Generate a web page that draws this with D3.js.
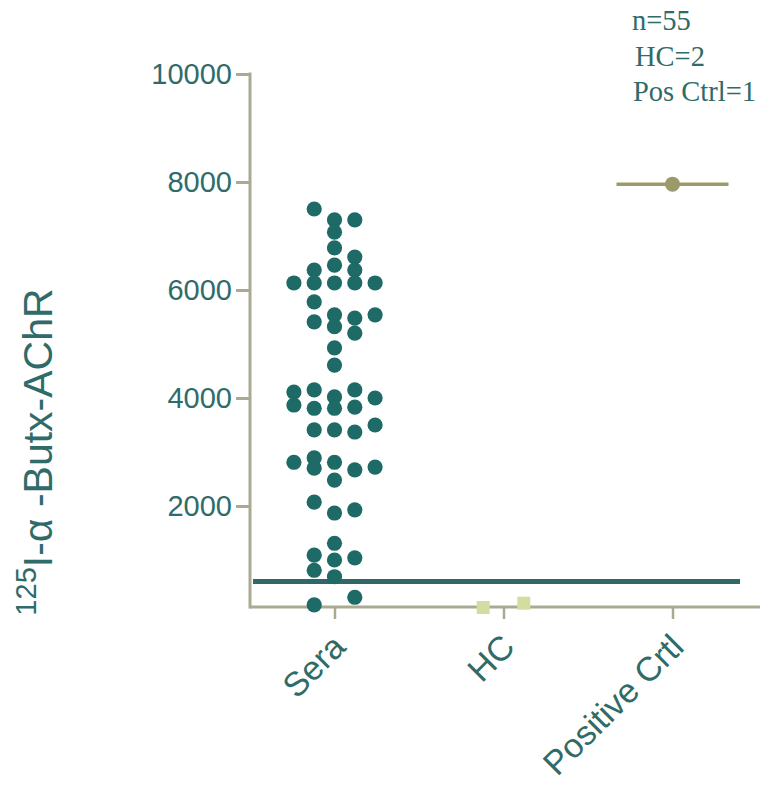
<!DOCTYPE html>
<html>
<head>
<meta charset="utf-8">
<script src="https://cdn.jsdelivr.net/npm/d3@7"></script>
<style>
  html, body { margin: 0; padding: 0; background: #ffffff; }
  svg { display: block; }
</style>
</head>
<body>
<div id="chart"></div>
<script>
// Groups on the x axis
const categories = ["Sera", "HC", "Positive Crtl"];

// 125I-α-Butx-AChR binding for each patient serum, with the lane it is stacked in
const seraValues = [
  7500, 7300, 7300, 7070, 6780, 6460, 6610, 6370, 6370,
  6130, 6130, 6130, 6130, 6130, 5780,
  5410, 5540, 5320, 5480, 5200, 5540, 4930, 4610,
  4110, 3870, 4150, 3810, 4020, 3810, 4150, 3830, 4000,
  3410, 3410, 3370, 3500,
  2810, 2890, 2700, 2810, 2480, 2670, 2720,
  2070, 1870, 1930, 1310, 1000, 690, 1090, 810, 1040, 310, 170
];
const seraLane = [
  -1, 0, 1, 0, 0, 0, 1, 1, -1,
  -2, -1, 0, 1, 2, -1,
  -1, 0, 0, 1, 1, 2, 0, 0,
  -2, -2, -1, -1, 0, 0, 1, 1, 2,
  -1, 0, 1, 2,
  -2, -1, -1, 0, 0, 1, 2,
  -1, 0, 1, 0, 0, 0, -1, -1, 1, 1, -1
];

// Healthy controls
const hcValues = [120, 200];
const hcLane = [-1, 1];

// Positive control and its mean bar
const posCtrlValues = [7960];

// Cut-off line
const cutoff = 600;

// Axis ticks
const yTicks = [2000, 4000, 6000, 8000, 10000];
const yAxisFloor = 130;

// Sample counts
const notes = ["n=55", "HC=2", "Pos Ctrl=1"];

const W = 760, H = 787;
const teal = "#1d6a66";
const textTeal = "#2f6b69";
const axisCol = "#aaa991";

const svg = d3.select("#chart").append("svg")
  .attr("width", W).attr("height", H);

const x = d3.scalePoint().domain(categories).range([250, 757]).padding(0.5);
const y = d3.scaleLinear().domain([0, 10000]).range([614, 74]);
const laneStep = 20.3;

// y axis
const yAxis = d3.axisLeft(y).tickValues(yTicks).tickSize(14).tickSizeOuter(0).tickPadding(4)
  .tickFormat(d3.format("d"));
const gy = svg.append("g").attr("transform", "translate(250,0)").call(yAxis);
gy.select(".domain").remove();
gy.append("line").attr("x1", 0).attr("x2", 0)
  .attr("y1", y(10000) - 1.5).attr("y2", y(yAxisFloor) + 1.5)
  .attr("stroke", axisCol).attr("stroke-width", 3);
gy.selectAll(".tick line").attr("stroke", axisCol).attr("stroke-width", 3);
gy.selectAll(".tick text")
  .attr("fill", textTeal)
  .style("font-family", "'Liberation Sans', Arial, sans-serif")
  .style("font-size", "29px");

// x axis
const xAxis = d3.axisBottom(x).tickSize(12).tickSizeOuter(0).tickFormat("");
const gx = svg.append("g").attr("transform", `translate(0,${y(yAxisFloor)})`).call(xAxis);
gx.select(".domain").remove();
gx.append("line").attr("x1", 250).attr("x2", W)
  .attr("stroke", axisCol).attr("stroke-width", 3);
gx.selectAll(".tick line").attr("stroke", axisCol).attr("stroke-width", 2.5);

// rotated category labels
svg.append("g").selectAll("text")
  .data(categories)
  .join("text")
  .attr("transform", d => `translate(${x(d) + 13},${y(yAxisFloor) + 42}) rotate(-45)`)
  .attr("text-anchor", "end")
  .attr("fill", textTeal)
  .style("font-family", "'Liberation Sans', Arial, sans-serif")
  .style("font-size", "34px")
  .text(d => d);

// y axis title
const yTitle = svg.append("text")
  .attr("transform", "translate(52,452) rotate(-90)")
  .attr("text-anchor", "middle")
  .attr("fill", textTeal)
  .style("font-family", "'Liberation Sans', Arial, sans-serif")
  .style("font-size", "41px");
yTitle.append("tspan").attr("baseline-shift", "super").style("font-size", "29px").text("125");
yTitle.append("tspan").text("I-\u03B1 -Butx-AChR");

// cut-off line
svg.append("line")
  .attr("x1", 253).attr("x2", 740)
  .attr("y1", y(cutoff)).attr("y2", y(cutoff))
  .attr("stroke", "#2f6866").attr("stroke-width", 5);

// sera dots
svg.append("g").selectAll("circle")
  .data(seraValues.map((v, i) => ({ v, lane: seraLane[i] })))
  .join("circle")
  .attr("cx", d => x("Sera") + d.lane * laneStep)
  .attr("cy", d => y(d.v))
  .attr("r", 7.6)
  .attr("fill", teal);

// healthy control squares
const sq = 13;
svg.append("g").selectAll("rect")
  .data(hcValues.map((v, i) => ({ v, lane: hcLane[i] })))
  .join("rect")
  .attr("x", d => x("HC") + d.lane * laneStep - sq / 2)
  .attr("y", d => y(d.v) - sq / 2)
  .attr("width", sq).attr("height", sq)
  .attr("fill", "#d5dca0");

// positive control mean bar and point
const posMean = d3.mean(posCtrlValues);
svg.append("line")
  .attr("x1", x("Positive Crtl") - 56).attr("x2", x("Positive Crtl") + 56)
  .attr("y1", y(posMean)).attr("y2", y(posMean))
  .attr("stroke", "#9c9a6a").attr("stroke-width", 3.5);
svg.append("g").selectAll("circle")
  .data(posCtrlValues)
  .join("circle")
  .attr("cx", x("Positive Crtl"))
  .attr("cy", d => y(d))
  .attr("r", 7.5)
  .attr("fill", "#9c9a6a");

// counts in the top right
svg.append("g").selectAll("text")
  .data(notes)
  .join("text")
  .attr("x", (d, i) => [632, 635, 633][i])
  .attr("y", (d, i) => 30 + i * 35.5)
  .attr("fill", textTeal)
  .style("font-family", "'Liberation Serif', 'Times New Roman', serif")
  .style("font-size", "28.5px")
  .text(d => d);
</script>
</body>
</html>
